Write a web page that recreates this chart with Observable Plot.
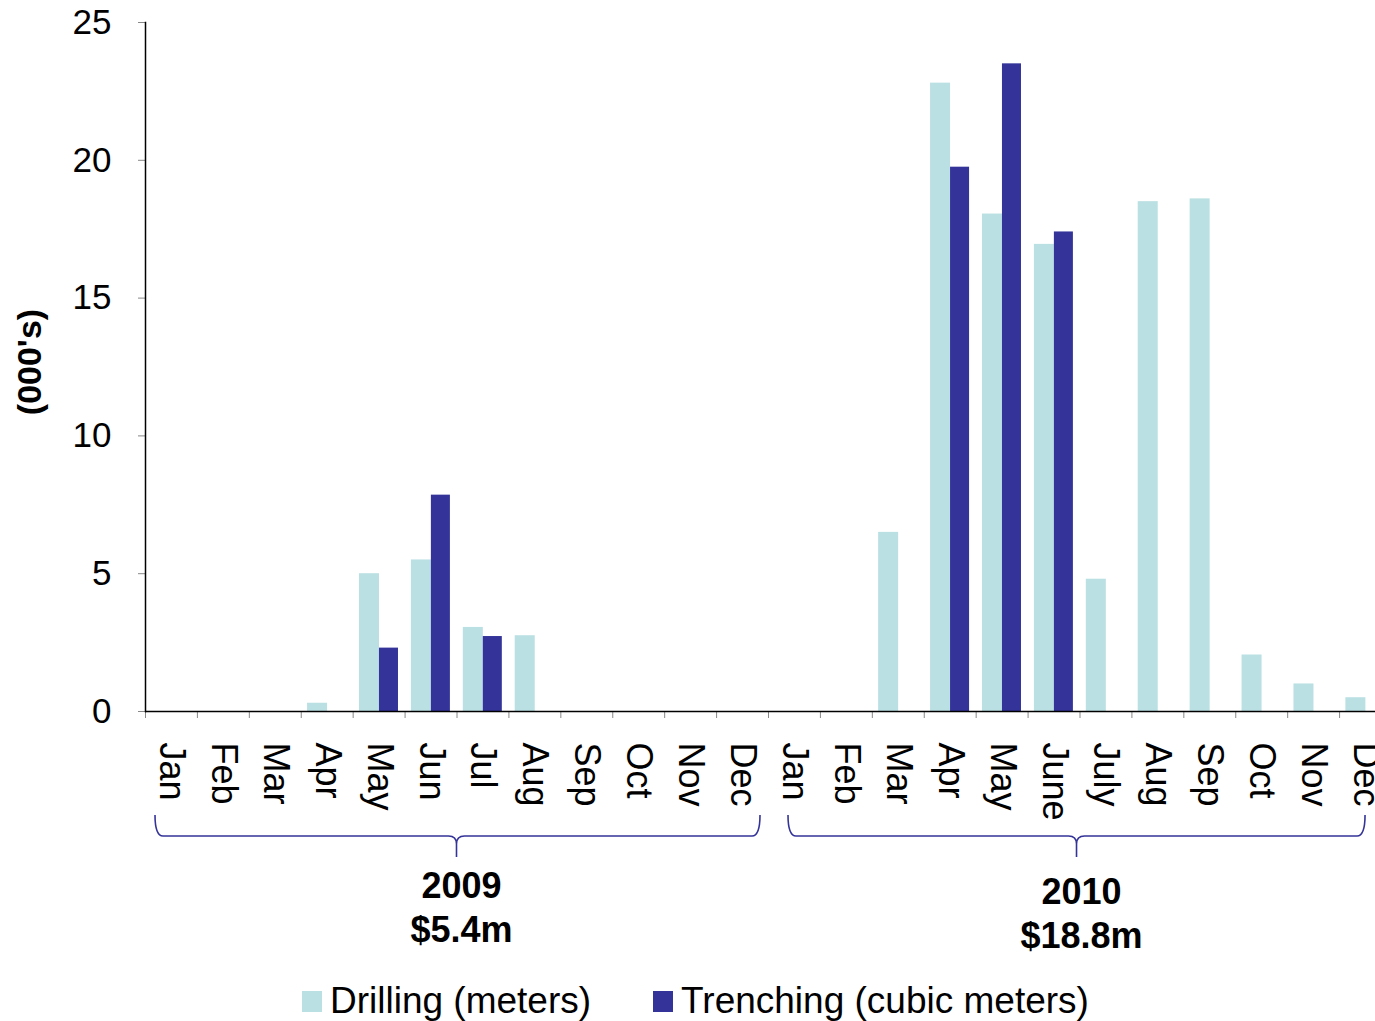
<!DOCTYPE html>
<html>
<head>
<meta charset="utf-8">
<script src="https://cdn.jsdelivr.net/npm/d3@7"></script>
<script src="https://cdn.jsdelivr.net/npm/@observablehq/plot@0.6"></script>
<style>
  html, body { margin: 0; padding: 0; background: #fff; overflow: hidden; }
  body { font-family: "Liberation Sans", Arial, sans-serif; width: 1391px; }
  #chart svg { max-width: none !important; display: block; }
  #legend { display: flex; align-items: center; margin-left: 302px; margin-top: 3px; height: 46px; font-size: 37px; color: #000; }
  #legend .item { display: flex; align-items: center; }
  #legend .sw { width: 20px; height: 21px; margin-right: 8px; }
  #legend .item + .item { margin-left: 62px; }
</style>
</head>
<body>
<div id="chart"></div>
<div id="legend"></div>
<script>
// ---- data ----
const years = ["2009", "2010"];
const monthLabels2009 = ["Jan","Feb","Mar","Apr","May","Jun","Jul","Aug","Sep","Oct","Nov","Dec"];
const monthLabels2010 = ["Jan","Feb","Mar","Apr","May","June","July","Aug","Sep","Oct","Nov","Dec"];
const drilling2009  = [0, 0, 0, 0.3, 5.0, 5.5, 3.05, 2.75, 0, 0, 0, 0];
const drilling2010  = [0, 0, 6.5, 22.8, 18.05, 16.95, 4.8, 18.5, 18.6, 2.05, 1.0, 0.5];
const trenching2009 = [0, 0, 0, 0, 2.3, 7.85, 2.72, 0, 0, 0, 0, 0];
const trenching2010 = [0, 0, 0, 19.75, 23.5, 17.4, 0, 0, 0, 0, 0, 0];
const yearTotals = ["$5.4m", "$18.8m"];
const seriesNames = ["Drilling (meters)", "Trenching (cubic meters)"];
const seriesColors = ["#bbe0e3", "#333399"];
const yTicks = [0, 5, 10, 15, 20, 25];

// ---- derived tables ----
const keys = [], labelOf = {};
monthLabels2009.forEach((m, i) => { const k = "2009-" + i; keys.push(k); labelOf[k] = m; });
monthLabels2010.forEach((m, i) => { const k = "2010-" + i; keys.push(k); labelOf[k] = m; });
const drillingAll = drilling2009.concat(drilling2010);
const trenchingAll = trenching2009.concat(trenching2010);
const drillRows = keys.map((k, i) => ({key: k, value: drillingAll[i]})).filter(d => d.value > 0);
const trenchRows = keys.map((k, i) => ({key: k, value: trenchingAll[i]})).filter(d => d.value > 0);

const W = 1391, H = 975, ML = 145, MR = 0, MT = 22, MB = 264;
const bw = (W - ML - MR) / keys.length;
const font = '"Liberation Sans", Arial, sans-serif';

// braces + year labels, drawn with the x scale
function braces(index, scales, values, dims) {
  const g = d3.create("svg:g").attr("font-family", font);
  const x = scales.x;
  const groups = [
    {year: years[0], total: yearTotals[0], x0: x("2009-0") + 10, x1: x("2009-11") + bw - 8, xc: x("2009-6")},
    {year: years[1], total: yearTotals[1], x0: x("2010-0") + 20, x1: x("2010-11") + bw / 2}
  ];
  groups[1].xc = (groups[1].x0 + groups[1].x1) / 2;
  const yTop = 815, yL = 836, yS = 857, r = 8;
  groups.forEach((gr, gi) => {
    const {x0, x1, xc} = gr;
    const p = `M${x0},${yTop} Q${x0},${yL} ${x0 + r},${yL} L${xc - r},${yL} Q${xc},${yL} ${xc},${yL + r} L${xc},${yS}` +
              ` M${xc},${yL + r} Q${xc},${yL} ${xc + r},${yL} L${x1 - r},${yL} Q${x1},${yL} ${x1},${yTop}`;
    g.append("path").attr("d", p).attr("fill", "none").attr("stroke", "#333399").attr("stroke-width", 1.6);
    const ty = gi === 0 ? 888 : 894;
    g.append("text").attr("x", xc + 5).attr("y", ty).attr("text-anchor", "middle").attr("dominant-baseline", "middle")
      .attr("font-size", 36).attr("font-weight", "bold").text(gr.year);
    g.append("text").attr("x", xc + 5).attr("y", ty + 44).attr("text-anchor", "middle").attr("dominant-baseline", "middle")
      .attr("font-size", 36).attr("font-weight", "bold").text(gr.total);
  });
  return g.node();
}

const chart = Plot.plot({
  width: W, height: H,
  marginLeft: ML, marginRight: MR, marginTop: MT, marginBottom: MB,
  style: {fontFamily: font, fontSize: "36px", color: "#000", background: "#fff", overflow: "visible", maxWidth: "none"},
  x: {type: "band", domain: keys, padding: 0, round: false, axis: null},
  y: {domain: [0, 25], axis: null},
  marks: [
    Plot.barY(drillRows, {x: "key", y: "value", fill: seriesColors[0], insetLeft: 6.3, insetRight: 25.6}),
    Plot.barY(trenchRows, {x: "key", y: "value", fill: seriesColors[1], insetLeft: 26.3, insetRight: 6.6}),
    Plot.axisY({ticks: yTicks, tickSize: 7, tickPadding: 27, fontSize: 35, stroke: "#888", label: null}),
    Plot.axisX({tickSize: 7, tickFormat: () => "", dx: -bw / 2, stroke: "#888", label: null}),
    Plot.axisX({tickSize: 0, tickPadding: 31, tickRotate: 90, fontSize: 36, tickFormat: k => labelOf[k], label: null}),
    Plot.ruleY([0], {stroke: "#000", strokeWidth: 1.5}),
    Plot.frame({anchor: "left", stroke: "#000", strokeWidth: 1.5}),
    Plot.text(["(000's)"], {frameAnchor: "left", textAnchor: "middle", rotate: -90, dx: -115, dy: -5, fontWeight: "bold", fontSize: 34}),
    braces
  ]
});
document.getElementById("chart").appendChild(chart);

const legend = document.getElementById("legend");
seriesNames.forEach((name, i) => {
  const item = document.createElement("div");
  item.className = "item";
  const sw = document.createElement("div");
  sw.className = "sw";
  sw.style.background = seriesColors[i];
  const t = document.createElement("span");
  t.textContent = name;
  item.appendChild(sw); item.appendChild(t);
  legend.appendChild(item);
});
</script>
</body>
</html>
